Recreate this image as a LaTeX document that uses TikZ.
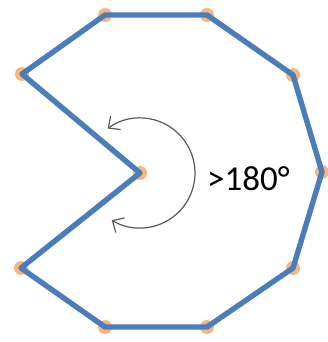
\documentclass[tikz,border=0pt]{standalone}
\usepackage{fontspec}
\setmainfont{Carlito}
\usepackage{tikz}
\usetikzlibrary{arrows.meta}
\definecolor{edgeblue}{HTML}{4A7EBB}
\definecolor{dotorange}{HTML}{F79646}
\definecolor{arcgray}{HTML}{595959}

\begin{document}
\begin{tikzpicture}[x=1pt, y=-1pt,
    vertex/.style={circle, fill=dotorange, fill opacity=0.7, minimum size=14pt, inner sep=0pt},
    edge/.style={edgeblue, line width=5.4pt, line join=round},
    anglearc/.style={arcgray, line width=1.2pt, {Straight Barb[length=9pt, width=17pt]}-{Straight Barb[length=9pt, width=17pt]}}]
  \useasboundingbox (0,0) rectangle (328,342);
  % vertices, clockwise from top left
  \node[vertex] (tl) at (105,15) {};
  \node[vertex] (tr) at (207,15) {};
  \node[vertex] (ru) at (293,75) {};
  \node[vertex] (rm) at (322,172) {};
  \node[vertex] (rl) at (293,268) {};
  \node[vertex] (br) at (207,327) {};
  \node[vertex] (bl) at (105,327) {};
  \node[vertex] (ll) at (21,268) {};
  \node[vertex] (cv) at (140,173) {};
  \node[vertex] (lu) at (22,74) {};
  % polygon
  \draw[edge] (tl.center) -- (tr.center) -- (ru.center) -- (rm.center) -- (rl.center)
    -- (br.center) -- (bl.center) -- (ll.center) -- (cv.center) -- (lu.center) -- cycle;
  % reflex angle
  \draw[anglearc] ([shift={(126:55pt)}]cv.center) arc[start angle=126, end angle=-121, radius=55pt];
  \node[anchor=base west, inner sep=0pt, font=\fontsize{35}{40}\selectfont] (lbl) at (207,190) {>180°};
\end{tikzpicture}
\end{document}
